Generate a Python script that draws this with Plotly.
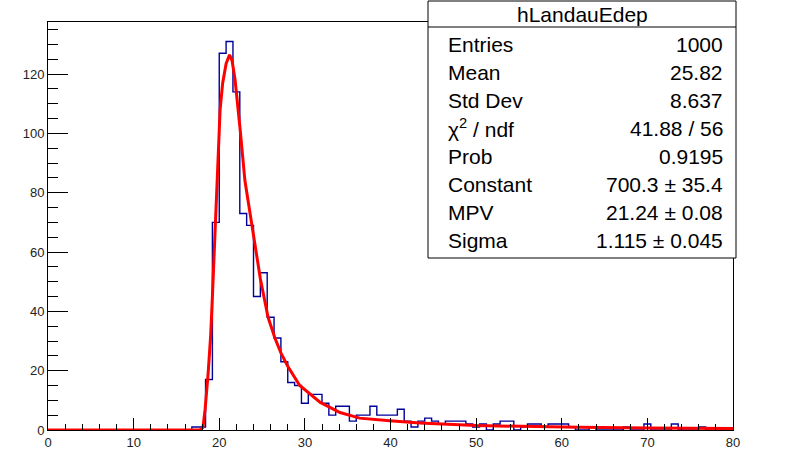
import plotly.graph_objects as go

# ---------------- data ----------------
bin_width = 0.8
n_bins = 100
counts = [0]*21 + [
    1, 1, 17, 70, 127, 131, 114, 73, 69, 45,      # bins 21-30
    53, 38, 31, 23, 16, 15, 9, 12, 12, 9,         # 31-40
    5, 8, 8, 3, 5, 5, 8, 5, 5, 5,                 # 41-50
    7, 3, 1, 3, 4, 3, 2, 3, 3, 3,                 # 51-60
    2, 1, 2, 0, 2, 3, 3, 0, 1, 2,                 # 61-70
    2, 1, 2, 2, 2, 1, 0, 0, 1, 0,                 # 71-80
    0, 0, 0, 1, 0, 0, 2, 0, 0, 0,                 # 81-90
    2, 0, 0, 0, 1, 0, 0, 0, 0                     # 91-99
]

fit_x = [0, 17.2, 17.8, 18.1, 18.35, 18.7, 19.0, 19.2, 19.4, 19.7, 19.9, 20.1,
         20.4, 20.8, 21.2, 21.5, 21.85, 22.15, 22.45, 23.0, 23.8, 24.8, 25.7,
         26.5, 27.2, 28.0, 29.4, 30.4, 31.8, 34.1, 36.4, 39.9, 43.4, 50, 56,
         62, 70, 80]
fit_y = [0, 0, 0.1, 0.9, 7, 19, 32, 45, 60, 76, 93, 108,
         117, 123.5, 126.5, 124.5, 118, 110, 101, 84, 69.5, 51, 38,
         31, 26, 21.5, 15, 12.5, 9.3, 5.9, 4.0, 3.1, 2.4, 1.5, 1.1,
         0.9, 0.7, 0.5]

x_ticks = [0, 10, 20, 30, 40, 50, 60, 70, 80]
y_ticks = [0, 20, 40, 60, 80, 100, 120]

stats_title = "hLandauEdep"
stats_labels = ["Entries", "Mean", "Std Dev", "χ<sup>2</sup> / ndf", "Prob",
                "Constant", "MPV", "Sigma"]
stats_values = ["1000", "25.82", "8.637", "41.88 / 56", "0.9195",
                "700.3 ± 35.4", "21.24 ± 0.08", "1.115 ± 0.045"]

# ---------------- figure ----------------
edges = [i * bin_width for i in range(n_bins + 1)]
step_y = counts + [counts[-1]]

W, H = 806, 452
L, R, T, B = 48, 733, 22, 430
ymax = 1.05 * max(counts)

def px(p):
    return p / W

def py(p):
    return 1 - p / H

FONT = "Liberation Sans, Arial, Helvetica, sans-serif"

fig = go.Figure()
fig.add_trace(go.Scatter(x=edges, y=step_y, mode="lines",
                         line=dict(color="#00009a", width=1.4, shape="hv"),
                         hoverinfo="skip", showlegend=False))
fig.add_trace(go.Scatter(x=fit_x, y=fit_y, mode="lines",
                         line=dict(color="#ff0000", width=3),
                         hoverinfo="skip", showlegend=False))

fig.update_layout(
    width=W, height=H,
    margin=dict(l=0, r=0, t=0, b=0, pad=0, autoexpand=False),
    paper_bgcolor="white", plot_bgcolor="white",
    font=dict(family=FONT, color="#222222"),
    showlegend=False,
)
fig.update_xaxes(domain=[L / W, R / W], automargin=False,
                 range=[0, 80], tickvals=x_ticks, ticks="inside", ticklen=12,
                 tickwidth=1, tickcolor="black", showline=True, linecolor="black",
                 linewidth=1, mirror=True, showgrid=False, zeroline=False,
                 minor=dict(dtick=2, tick0=0, ticks="inside", ticklen=6,
                            tickcolor="black", showgrid=False),
                 tickfont=dict(size=13, family=FONT, color="#222222"))
fig.update_yaxes(domain=[1 - B / H, 1 - T / H], automargin=False,
                 range=[0, ymax], tickvals=y_ticks, ticks="inside", ticklen=20,
                 tickwidth=1, tickcolor="black", showline=True, linecolor="black",
                 linewidth=1, mirror=True, showgrid=False, zeroline=False,
                 minor=dict(dtick=5, tick0=0, ticks="inside", ticklen=10,
                            tickcolor="black", showgrid=False),
                 tickfont=dict(size=13, family=FONT, color="#222222"))

# stats box
bx0, bx1, by0, by1, bsep = 428, 736, 1, 258, 27
fig.add_shape(type="rect", xref="paper", yref="paper",
              x0=px(bx0), x1=px(bx1), y0=py(by1), y1=py(by0),
              line=dict(color="black", width=1), fillcolor="white", layer="above")
fig.add_shape(type="line", xref="paper", yref="paper",
              x0=px(bx0), x1=px(bx1), y0=py(bsep), y1=py(bsep),
              line=dict(color="black", width=1), layer="above")
fig.add_annotation(text=stats_title, xref="paper", yref="paper",
                   x=px((bx0 + bx1) / 2), y=py(14), xanchor="center", yanchor="middle",
                   showarrow=False, font=dict(size=21, family=FONT, color="black"))
for i, (lab, val) in enumerate(zip(stats_labels, stats_values)):
    yc = 44 + 28.1 * i
    fig.add_annotation(text=lab, xref="paper", yref="paper", x=px(446), y=py(yc),
                       xanchor="left", yanchor="middle", showarrow=False,
                       font=dict(size=21, family=FONT, color="black"))
    fig.add_annotation(text=val, xref="paper", yref="paper", x=px(725), y=py(yc),
                       xanchor="right", yanchor="middle", showarrow=False,
                       font=dict(size=21, family=FONT, color="black"))

fig.write_html("out.html", config={"displayModeBar": False},
               post_script="document.body.style.margin='0';document.body.style.overflow='hidden';")
